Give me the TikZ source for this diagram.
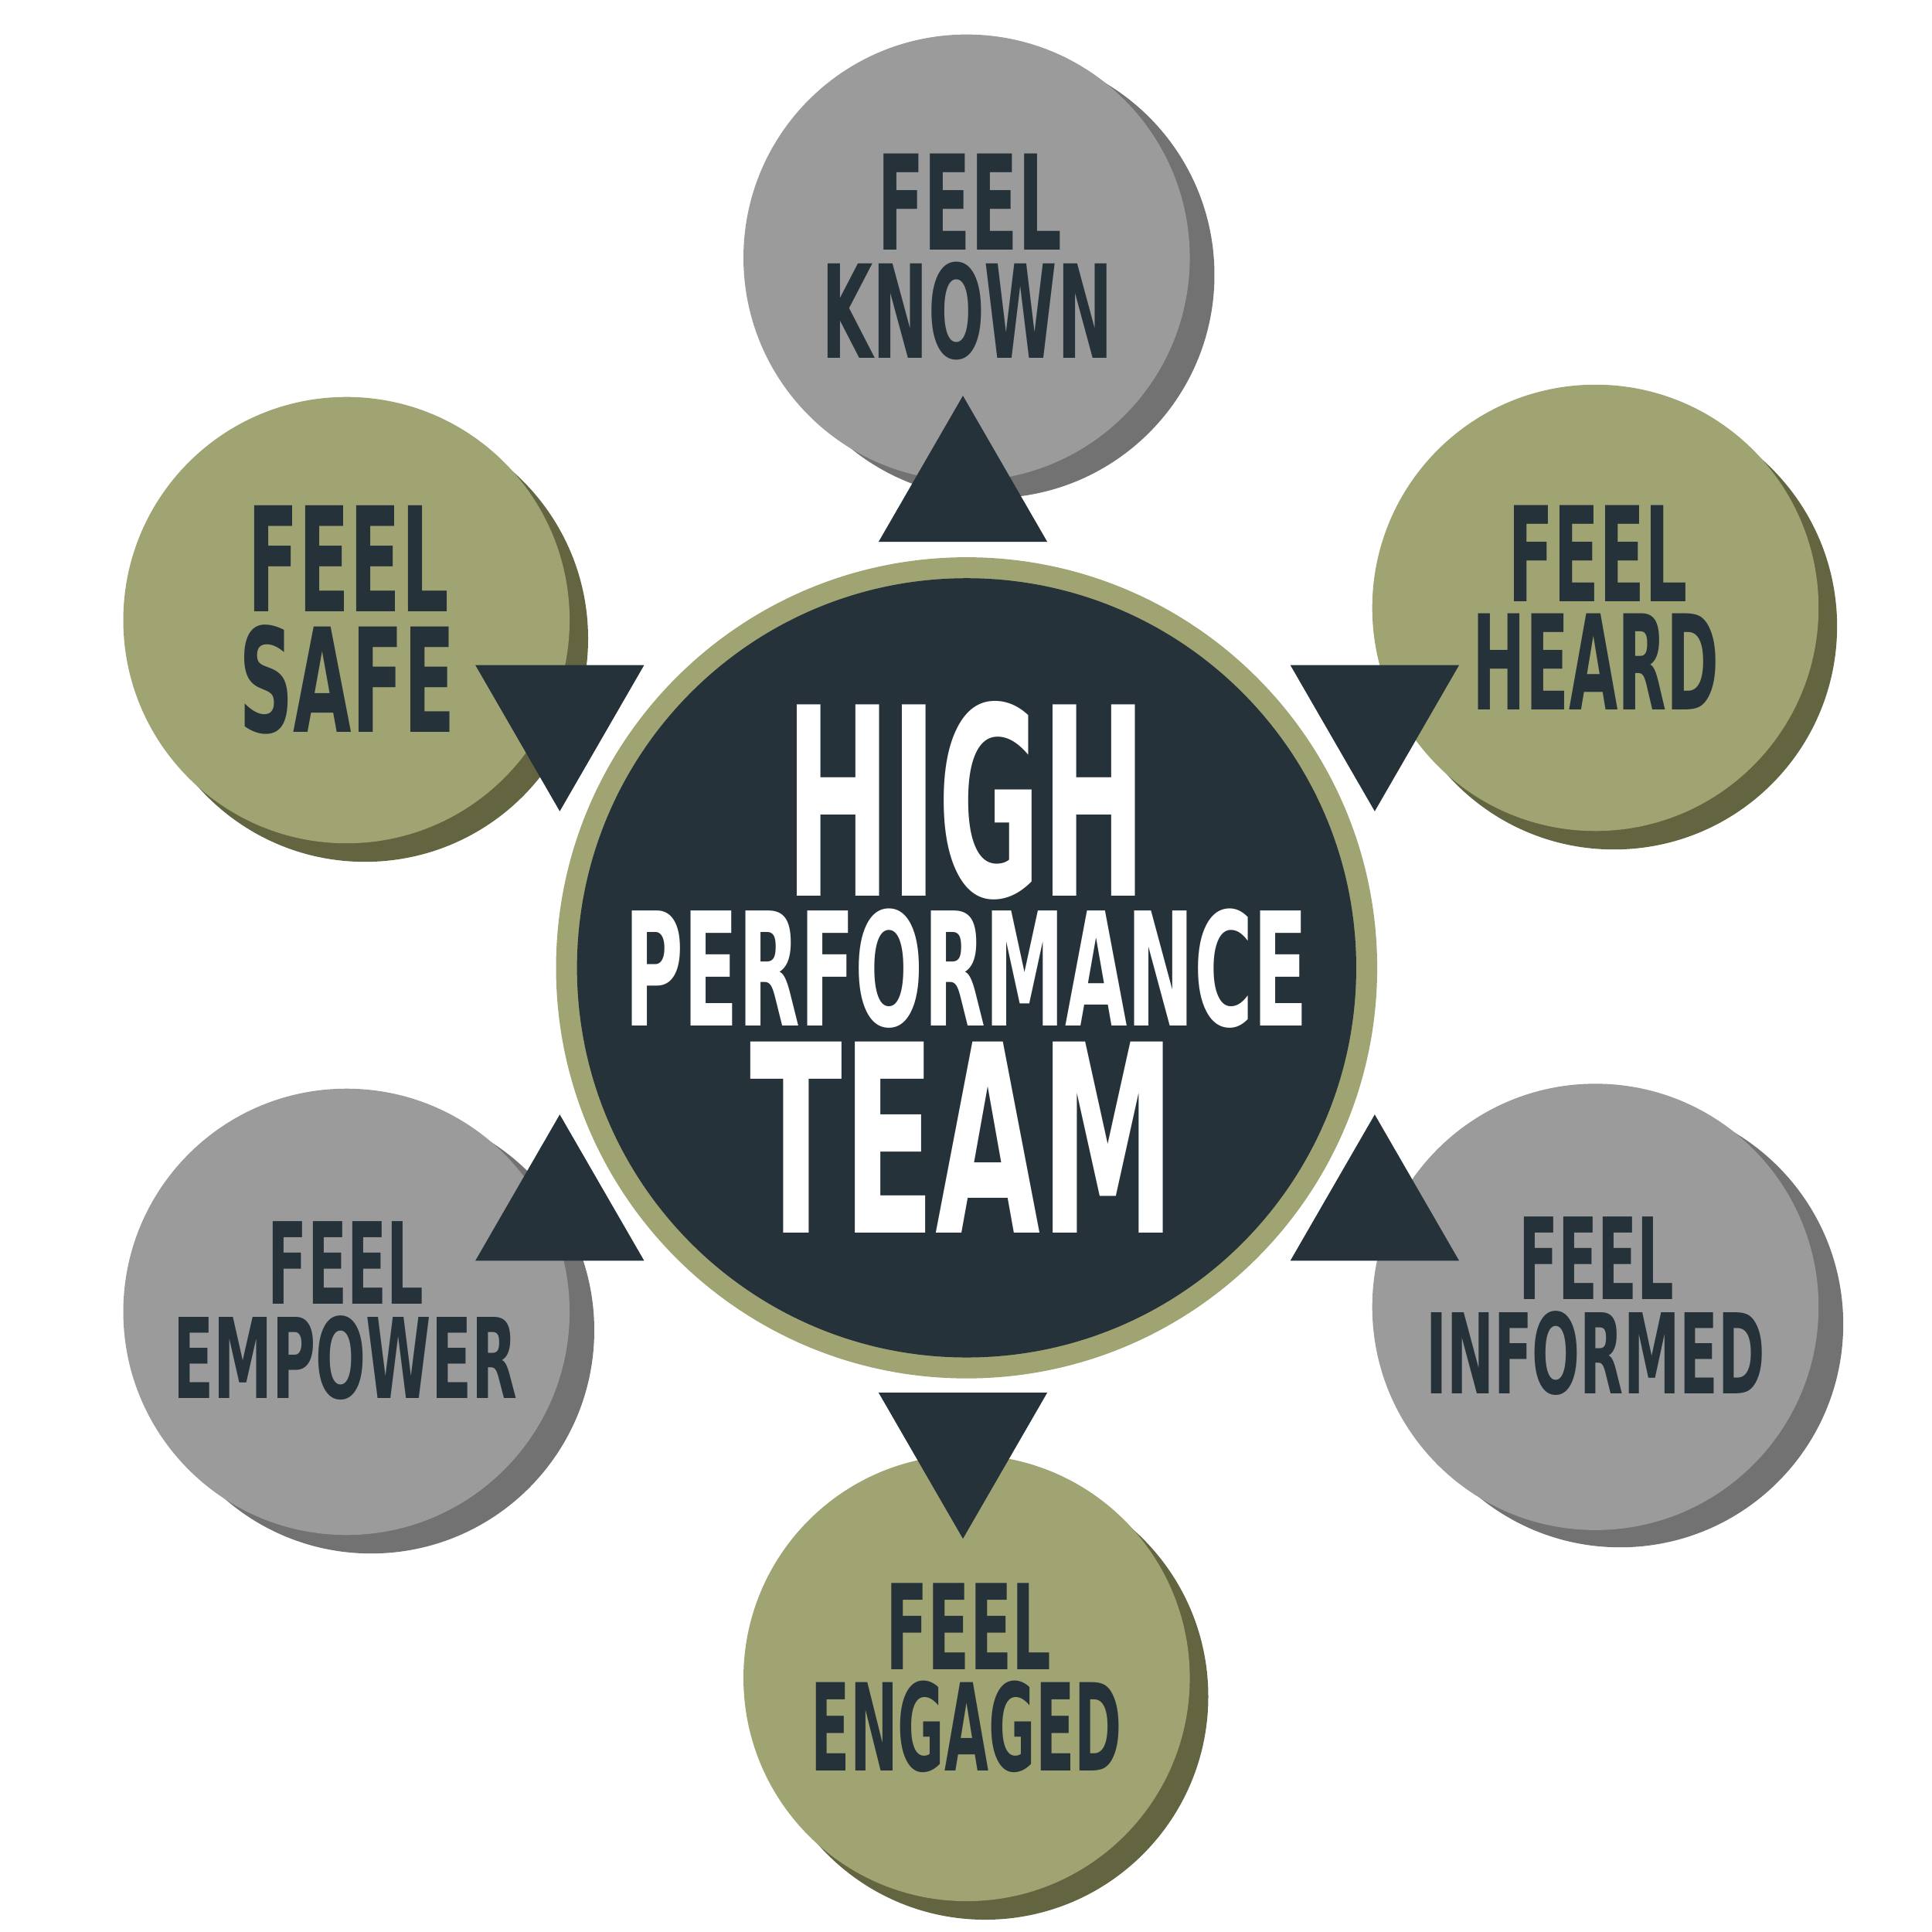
\documentclass[tikz,border=0pt]{standalone}
\usepackage{fontspec}
\setmainfont{DejaVu Sans}
\usepackage{graphicx}
\usetikzlibrary{calc}

\definecolor{darkslate}{HTML}{25323A}
\definecolor{olivelight}{HTML}{A0A473}
\definecolor{oliveshade}{HTML}{636540}
\definecolor{greylight}{HTML}{9B9B9B}
\definecolor{greyshade}{HTML}{727272}

% 压扁的粗体字
\newcommand{\fitword}[3]{\resizebox{#1cm}{#2cm}{\bfseries #3}}

\tikzset{
  ball/.style={circle, minimum size=3.62cm, inner sep=0pt},
  word/.style={inner sep=0pt, text=darkslate},
}

\begin{document}
\begin{tikzpicture}
            \useasboundingbox (0,-0.07) rectangle (15.67,15.6);

            % 定义点
            \coordinate (O) at (7.84,7.75);
            \coordinate (tKnown) at (7.81,11.60);
            \coordinate (tEngaged) at (7.81,3.91);
            \coordinate (tSafe) at (4.54,9.81);
            \coordinate (tHeard) at (11.15,9.81);
            \coordinate (tEmpower) at (4.54,5.77);
            \coordinate (tInformed) at (11.15,5.77);

            % 中心圆
            \node[circle, fill=olivelight, minimum size=6.66cm, inner sep=0pt] (team) at (O) {};
            \fill[darkslate] (team.center) circle (3.16);
            \node[word, text=white] (high) at (7.835,9.11) {\fitword{2.93}{1.58}{HIGH}};
            \node[word, text=white] (perf) at (7.84,7.745) {\fitword{5.54}{0.95}{PERFORMANCE}};
            \node[word, text=white] (teamw) at (7.81,6.375) {\fitword{3.45}{1.55}{TEAM}};

            % 上
            \fill[greyshade] ($(7.84,13.51)+(0.20,-0.14)$) circle (1.81);
            \node[ball, fill=greylight] (known) at (7.84,13.51) {};
            \node[word] (knownA) at (7.865,13.96) {\fitword{1.50}{0.78}{FEEL}};
            \node[word] (knownB) at (7.845,13.08) {\fitword{2.36}{0.78}{KNOWN}};

            % 左上
            \fill[oliveshade] ($(2.81,10.57)+(0.15,-0.15)$) circle (1.81);
            \node[ball, fill=olivelight] (safe) at (2.81,10.57) {};
            \node[word] (safeA) at (2.825,11.07) {\fitword{1.63}{0.86}{FEEL}};
            \node[word] (safeB) at (2.815,10.085) {\fitword{1.75}{0.87}{SAFE}};

            % 右上
            \fill[oliveshade] ($(12.94,10.67)+(0.15,-0.15)$) circle (1.81);
            \node[ball, fill=olivelight] (heard) at (12.94,10.67) {};
            \node[word] (heardA) at (12.96,11.11) {\fitword{1.46}{0.78}{FEEL}};
            \node[word] (heardB) at (12.945,10.23) {\fitword{2.00}{0.78}{HEARD}};

            % 左下
            \fill[greyshade] ($(2.81,4.96)+(0.20,-0.15)$) circle (1.81);
            \node[ball, fill=greylight] (empower) at (2.81,4.96) {};
            \node[word] (empowerA) at (2.805,5.355) {\fitword{1.26}{0.67}{FEEL}};
            \node[word] (empowerB) at (2.80,4.585) {\fitword{2.79}{0.67}{EMPOWER}};

            % 右下
            \fill[greyshade] ($(12.94,5.00)+(0.20,-0.14)$) circle (1.81);
            \node[ball, fill=greylight] (informed) at (12.94,5.00) {};
            \node[word] (informedA) at (12.95,5.395) {\fitword{1.26}{0.67}{FEEL}};
            \node[word] (informedB) at (12.94,4.625) {\fitword{2.75}{0.67}{INFORMED}};

            % 下
            \fill[oliveshade] ($(7.84,1.99)+(0.15,-0.15)$) circle (1.81);
            \node[ball, fill=olivelight] (engaged) at (7.84,1.99) {};
            \node[word] (engagedA) at (7.855,2.41) {\fitword{1.34}{0.70}{FEEL}};
            \node[word] (engagedB) at (7.84,1.595) {\fitword{2.52}{0.73}{ENGAGED}};

            % 三角形箭头
            \fill[darkslate] ($(tKnown)+(90:0.79)$) -- ($(tKnown)+(210:0.79)$) -- ($(tKnown)+(330:0.79)$) -- cycle;
            \fill[darkslate] ($(tEngaged)+(270:0.79)$) -- ($(tEngaged)+(30:0.79)$) -- ($(tEngaged)+(150:0.79)$) -- cycle;
            \fill[darkslate] ($(tSafe)+(150:0.79)$) -- ($(tSafe)+(270:0.79)$) -- ($(tSafe)+(30:0.79)$) -- cycle;
            \fill[darkslate] ($(tHeard)+(30:0.79)$) -- ($(tHeard)+(150:0.79)$) -- ($(tHeard)+(270:0.79)$) -- cycle;
            \fill[darkslate] ($(tEmpower)+(210:0.79)$) -- ($(tEmpower)+(330:0.79)$) -- ($(tEmpower)+(90:0.79)$) -- cycle;
            \fill[darkslate] ($(tInformed)+(330:0.79)$) -- ($(tInformed)+(90:0.79)$) -- ($(tInformed)+(210:0.79)$) -- cycle;
\end{tikzpicture}
\end{document}
